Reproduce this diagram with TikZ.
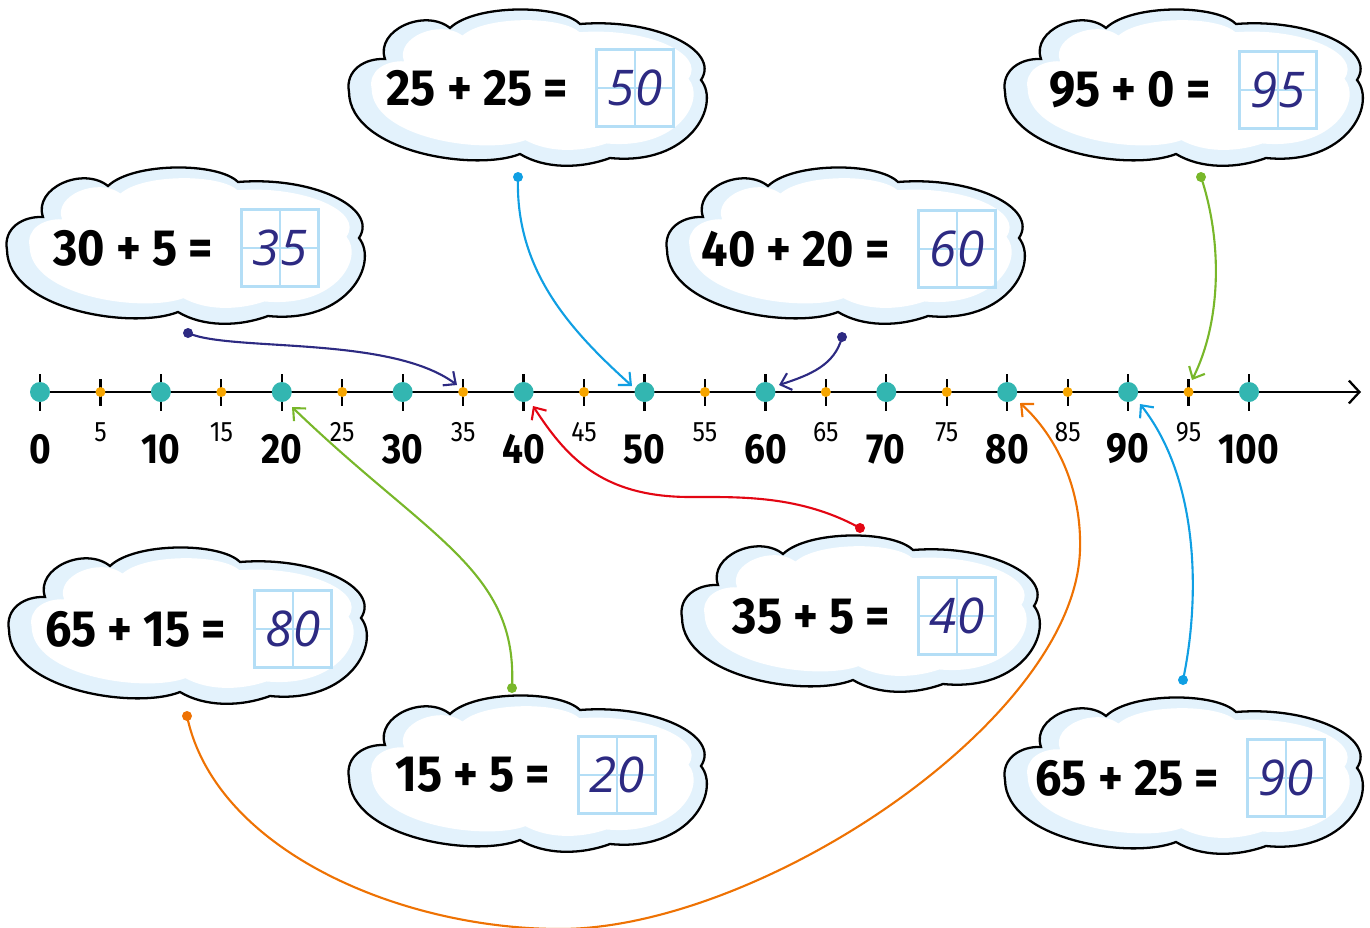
\documentclass[tikz,border=0pt]{standalone}
\usepackage{fontspec}
\usepackage{xcolor}
\usepackage{tikz}
\usetikzlibrary{arrows.meta}

\newfontfamily\eqfont{Fira Sans}[FakeStretch=0.92]
\newfontfamily\numfont{Fira Sans}[FakeStretch=0.88]
\newfontfamily\handfont{Open Sans Italic}

\definecolor{dotteal}{HTML}{33B6B1}
\definecolor{dotorange}{HTML}{F6A500}
\definecolor{inknavy}{HTML}{2D2A82}
\definecolor{linecyan}{HTML}{109FE3}
\definecolor{linegreen}{HTML}{78B72A}
\definecolor{linered}{HTML}{E30613}
\definecolor{lineorange}{HTML}{EE7203}
\definecolor{gridblue}{HTML}{B4DEF6}
\definecolor{cloudblue}{HTML}{E3F2FC}

% cloud outline, centred on the origin (pixel units)
\newcommand{\cloudpath}{(-176,2) .. controls (-180,-20) and (-160,-32) .. (-140,-31)
  .. controls (-150,-60) and (-100,-82) .. (-75,-62)
  .. controls (-50,-86) and (35,-86) .. (55,-66)
  .. controls (130,-72) and (196,-40) .. (176,-10)
  .. controls (196,15) and (165,76) .. (85,68)
  .. controls (55,79) and (20,79) .. (-5,64)
  .. controls (-50,82) and (-175,62) .. (-176,2) -- cycle}

\begin{document}
\begin{tikzpicture}[x=0.02cm, y=-0.02cm,
  tick/.style={line width=1.3pt, black},
  bignum/.style={font=\numfont\bfseries\fontsize{24}{24}\selectfont, inner sep=0pt},
  smallnum/.style={font=\numfont\fontsize{16}{16}\selectfont, inner sep=0pt},
  eq/.style={font=\eqfont\bfseries\fontsize{29}{29}\selectfont, anchor=east, inner sep=0pt},
  answer/.style={draw=gridblue, line width=1.5pt, minimum size=1.54cm, inner sep=0pt,
    text=inknavy, font=\handfont\fontsize{28}{28}\selectfont,
    path picture={\draw[gridblue, line width=1.5pt]
      (path picture bounding box.north) -- (path picture bounding box.south)
      (path picture bounding box.west) -- (path picture bounding box.east);}},
  startdot/.style={circle, fill=#1, minimum size=0.2cm, inner sep=0pt},
  conn/.style={line width=1.2pt, draw=#1, -{Straight Barb[length=5.5pt, width=10pt]}},
  cloud/.pic={
    \fill[cloudblue] \cloudpath;
    \fill[white, shift={(5,-3)}, xscale=0.9, yscale=0.83] \cloudpath;
    \draw[line width=1.3pt, black] \cloudpath;
  }
]
\useasboundingbox (0,0) rectangle (1370,927);

% Number line
\foreach \v in {0,5,...,100}
  \coordinate (tick\v) at ({40+12.09*\v},392);
\foreach \v in {0,10,...,100}
  \draw[tick] (tick\v) ++(0,-18) -- ++(0,37);
\foreach \v in {5,15,...,95}
  \draw[tick] (tick\v) ++(0,-13) -- ++(0,27);
\draw[tick, -{Straight Barb[length=6pt, width=13pt]}] (30,392) -- (1361,392);
\foreach \v in {0,10,...,100} {
  \fill[dotteal] (tick\v) circle (0.2cm);
  \node[bignum] (lab\v) at ({40+12.09*\v},449) {\v};
}
\foreach \v in {5,15,...,95} {
  \fill[dotorange] (tick\v) circle (0.1cm);
  \node[smallnum] (lab\v) at ({40+12.09*\v},432) {\v};
}

% Clouds
\pic at (525,90) {cloud};
\pic at (1181,90) {cloud};
\pic at (183,248) {cloud};
\pic at (843,248) {cloud};
\pic at (185,628) {cloud};
\pic at (858,616) {cloud};
\pic at (525,776) {cloud};
\pic at (1181,778) {cloud};

% Sums and answer boxes
\node[answer] (boxA) at (635,88) {50};
\node[eq] (eqA) at ([xshift=-0.54cm]boxA.west) {25 + 25 =};
\node[answer] (boxB) at (1278,90) {95};
\node[eq] (eqB) at ([xshift=-0.54cm]boxB.west) {95 + 0 =};
\node[answer] (boxC) at (280,248) {35};
\node[eq] (eqC) at ([xshift=-0.54cm]boxC.west) {30 + 5 =};
\node[answer] (boxD) at (957,249) {60};
\node[eq] (eqD) at ([xshift=-0.54cm]boxD.west) {40 + 20 =};
\node[answer] (boxE) at (293,629) {80};
\node[eq] (eqE) at ([xshift=-0.54cm]boxE.west) {65 + 15 =};
\node[answer] (boxF) at (957,616) {40};
\node[eq] (eqF) at ([xshift=-0.54cm]boxF.west) {35 + 5 =};
\node[answer] (boxG) at (617,775) {20};
\node[eq] (eqG) at ([xshift=-0.54cm]boxG.west) {15 + 5 =};
\node[answer] (boxH) at (1286,778) {90};
\node[eq] (eqH) at ([xshift=-0.54cm]boxH.west) {65 + 25 =};

% Connectors: dot at the cloud, barb at the number line
\node[startdot=inknavy] (sC) at (188,333) {};
\coordinate (eC) at (457,385);
\draw[conn=inknavy] (sC.center) .. controls (230,352) and (390,335) .. (eC);

\node[startdot=linecyan] (sA) at (518,177) {};
\coordinate (eA) at (632,386);
\draw[conn=linecyan] (sA.center) .. controls (515,270) and (570,330) .. (eA);

\node[startdot=inknavy] (sD) at (842,337) {};
\coordinate (eD) at (779,385);
\draw[conn=inknavy] (sD.center) .. controls (835,365) and (810,375) .. (eD);

\node[startdot=linegreen] (sB) at (1201,177) {};
\coordinate (eB) at (1192,380);
\draw[conn=linegreen] (sB.center) .. controls (1222,240) and (1222,320) .. (eB);

\node[startdot=linegreen] (sG) at (512,688) {};
\coordinate (eG) at (292,407);
\draw[conn=linegreen] (sG.center) .. controls (518,570) and (430,540) .. (eG);

\node[startdot=linered] (sF) at (860,528) {};
\coordinate (eF) at (533,406);
\draw[conn=linered] (sF.center) .. controls (800,495) and (740,497) .. (690,497)
  .. controls (600,497) and (565,455) .. (eF);

\node[startdot=lineorange] (sE) at (187,716) {};
\coordinate (eE) at (1020,403);
\draw[conn=lineorange] (sE.center) .. controls (215,850) and (400,929) .. (560,929)
  .. controls (760,929) and (1075,720) .. (1080,550)
  .. controls (1082,480) and (1050,430) .. (eE);

\node[startdot=linecyan] (sH) at (1183,680) {};
\coordinate (eH) at (1140,404);
\draw[conn=linecyan] (sH.center) .. controls (1200,600) and (1200,480) .. (eH);

\end{tikzpicture}
\end{document}
